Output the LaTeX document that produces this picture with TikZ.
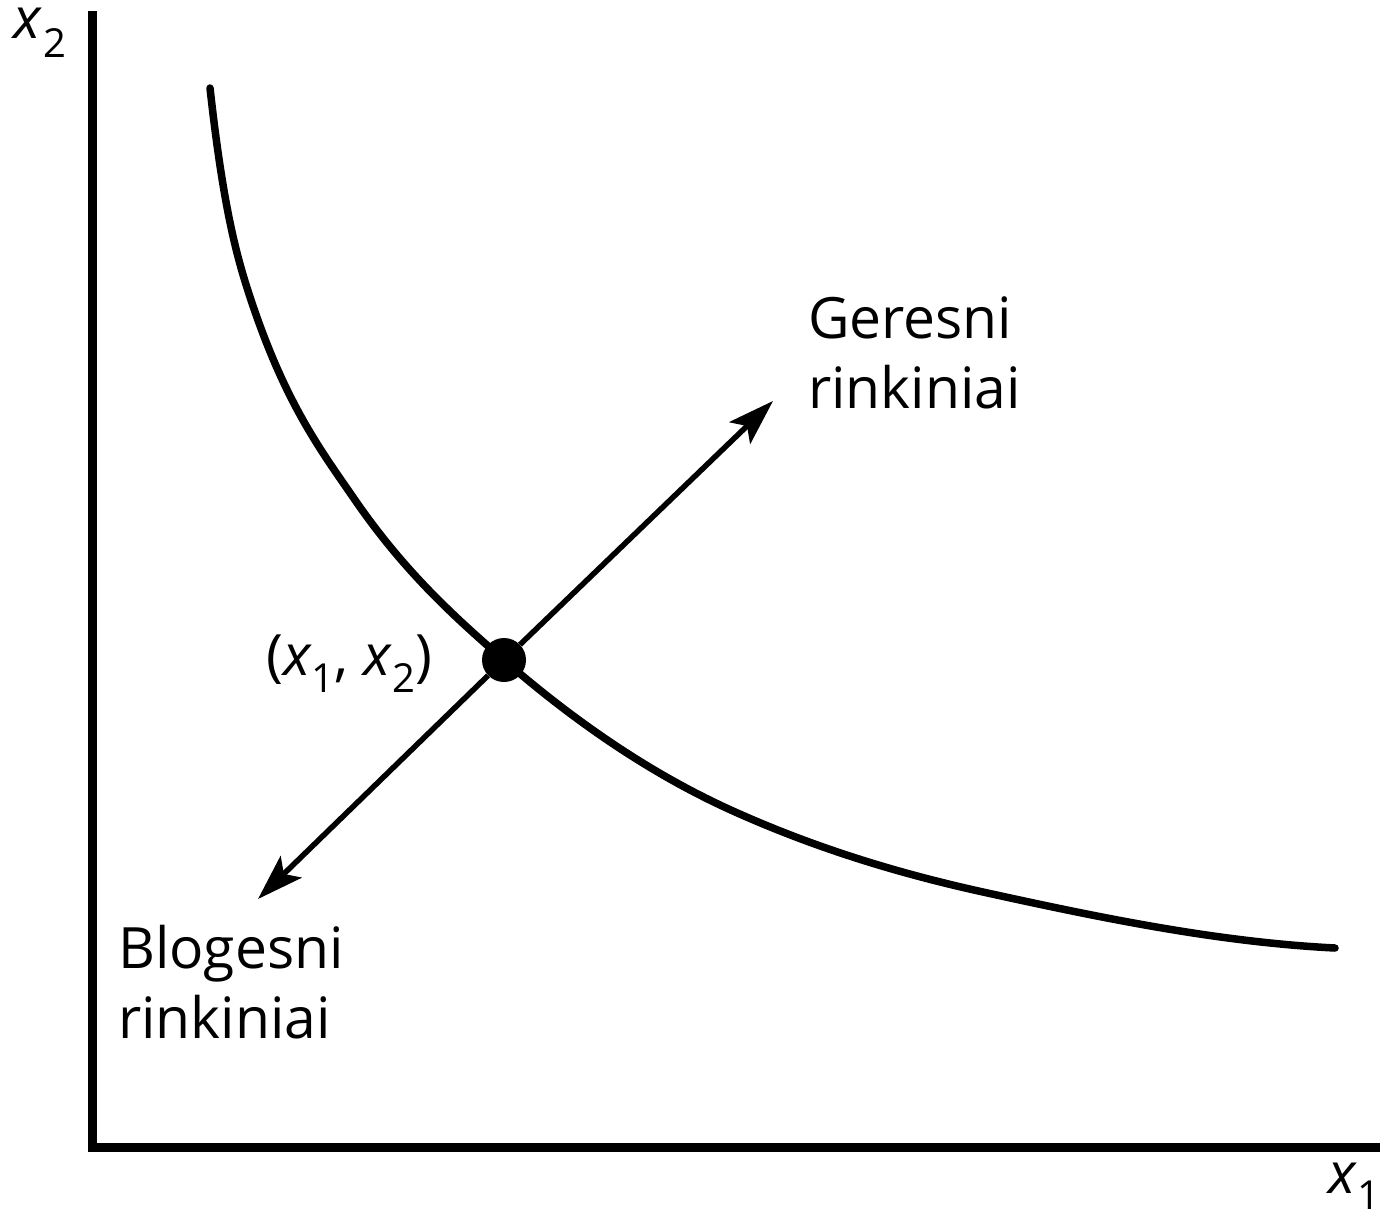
\documentclass[tikz,border=0pt]{standalone}
\usepackage{fontspec}
\setmainfont{Open Sans}
\usetikzlibrary{arrows.meta}
\newcommand{\sbs}[1]{\raisebox{-17pt}{\fontsize{40}{40}\selectfont #1}}
\begin{document}
\begin{tikzpicture}[x=1pt,y=-1pt,
  lbl/.style={inner sep=0pt,font=\fontsize{57}{70}\selectfont},
  axisline/.style={line width=9pt,line join=miter},
  curveline/.style={line width=7.5pt,line cap=round},
  arrowline/.style={line width=5.5pt,-{Stealth[length=46pt,width=30pt,inset=10pt]}},
  dotnode/.style={circle,fill=black,inner sep=0pt,minimum size=44pt}]
\useasboundingbox (0,0) rectangle (1389,1219);
% axes
\coordinate (ytop) at (92.5,11);
\coordinate (orig) at (92.5,1147.5);
\coordinate (xend) at (1380,1147.5);
\draw[axisline] (ytop) -- (orig) -- (xend);
% indifference curve
\coordinate (k0) at (210,88);
\coordinate (k1) at (251,300);
\coordinate (k2) at (355,500);
\coordinate (k3) at (504,660);
\coordinate (k4) at (733,811);
\coordinate (k5) at (983,892);
\coordinate (k6) at (1335,948);
\draw[curveline] (k0) .. controls (223.67,211) and (237.33,259) .. (k1)
  .. controls (285.67,404) and (320.33,449.7) .. (k2)
  .. controls (404.67,572) and (454.33,616.8) .. (k3)
  .. controls (580.33,726.4) and (656.67,776.65) .. (k4)
  .. controls (816.33,848.5) and (899.67,873.67) .. (k5)
  .. controls (1100.33,917.8) and (1217.67,942.1) .. (k6);
% point and arrows
\node[dotnode] (p) at (k3) {};
\coordinate (g) at (773,401);
\coordinate (b) at (258,899);
\draw[arrowline] (p) -- (g);
\draw[arrowline] (p) -- (b);
% labels
\node[lbl,anchor=base west] (lx2) at (13,38) {\textit{x}\kern1pt\raisebox{-19pt}{\fontsize{40}{40}\selectfont 2}};
\node[lbl,anchor=base west] (lx1) at (1328,1193) {\textit{x}\raisebox{-16pt}{\fontsize{40}{40}\selectfont 1}};
\node[lbl,anchor=base west] (lp) at (266,675) {(\textit{x}\sbs{1}, \textit{x}\sbs{2})};
\node[lbl,anchor=base west,align=left] (lg) at (808,408) {Geresni\\rinkiniai};
\node[lbl,anchor=base west,align=left] (lb) at (118,1038) {Blogesni\\rinkiniai};
\end{tikzpicture}
\end{document}
